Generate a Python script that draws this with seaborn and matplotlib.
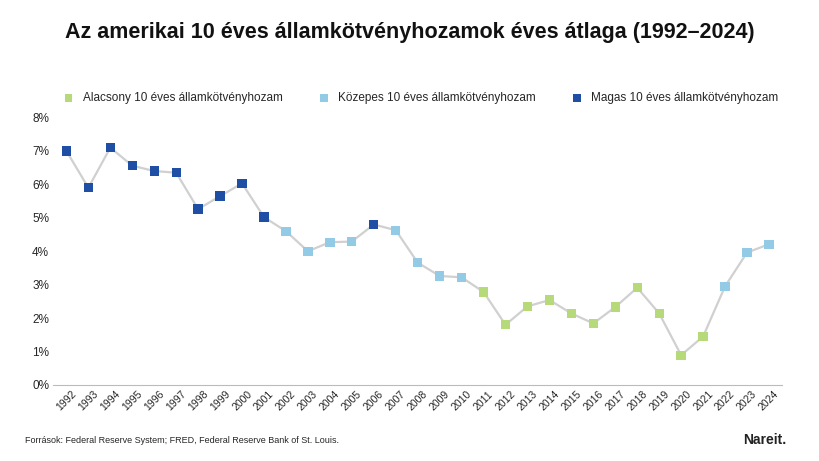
import matplotlib
matplotlib.use("Agg")
import matplotlib.pyplot as plt
import seaborn as sns
import pandas as pd

years = list(range(1992, 2025))
yields = [7.0, 5.9, 7.1, 6.56, 6.4, 6.35, 5.26, 5.65, 6.03, 5.02,
          4.6, 4.0, 4.27, 4.29, 4.8, 4.63, 3.66, 3.26, 3.22, 2.78,
          1.8, 2.35, 2.54, 2.14, 1.84, 2.33, 2.91, 2.14, 0.89, 1.45,
          2.95, 3.96, 4.21]
cats = (["Magas"] * 10 + ["Közepes"] * 4 + ["Magas"] + ["Közepes"] * 4
        + ["Alacsony"] * 11 + ["Közepes"] * 3)
labels = {"Alacsony": "Alacsony 10 éves államkötvényhozam",
          "Közepes": "Közepes 10 éves államkötvényhozam",
          "Magas": "Magas 10 éves államkötvényhozam"}
colors = {"Alacsony": "#b6d97a", "Közepes": "#93cbe6", "Magas": "#1f4fa5"}

df = pd.DataFrame({"year": years, "value": yields, "cat": cats})
df["x"] = range(len(df))

sns.set_style("white")
plt.rcParams["font.family"] = ["Liberation Sans", "DejaVu Sans"]

fig = plt.figure(figsize=(8.19, 4.61), dpi=100)
ax = fig.add_axes([0.065, 0.165, 0.89, 0.58])
sns.lineplot(data=df, x="x", y="value", color="#d0d0d0", lw=1.6, ax=ax, zorder=1)
for c in ["Alacsony", "Közepes", "Magas"]:
    sub = df[df["cat"] == c]
    sns.scatterplot(data=sub, x="x", y="value", marker="s", s=45, color=colors[c],
                    edgecolor="none", label=labels[c], ax=ax, zorder=3)

ax.set_ylim(0, 8)
ax.set_xlim(-0.6, len(df) - 0.4)
ax.set_yticks(range(0, 9))
ax.set_yticklabels([f"{v}%" for v in range(0, 9)], fontsize=8.5)
ax.set_xticks(df["x"])
ax.set_xticklabels(df["year"], rotation=45, fontsize=7.5)
ax.set_xlabel("")
ax.set_ylabel("")
ax.tick_params(axis="both", length=0, pad=3)
for s in ["top", "right", "left"]:
    ax.spines[s].set_visible(False)
ax.spines["bottom"].set_color("#bbbbbb")

ax.legend(loc="lower center", bbox_to_anchor=(0.5, 1.01), ncol=3, frameon=False,
          fontsize=8.5, handletextpad=0.2, columnspacing=2.5, markerscale=0.8)

fig.text(0.5, 0.93, "Az amerikai 10 éves államkötvényhozamok éves átlaga (1992–2024)",
         ha="center", va="center", fontsize=15.5, fontweight="bold", color="#111111")
fig.text(0.03, 0.045, "Források: Federal Reserve System; FRED, Federal Reserve Bank of St. Louis.",
         fontsize=6.5, va="center")
fig.text(0.96, 0.045, "Nareit.", fontsize=10, fontweight="bold", ha="right", va="center",
         color="#222222")

fig.savefig("out.png", dpi=100, facecolor="white")
